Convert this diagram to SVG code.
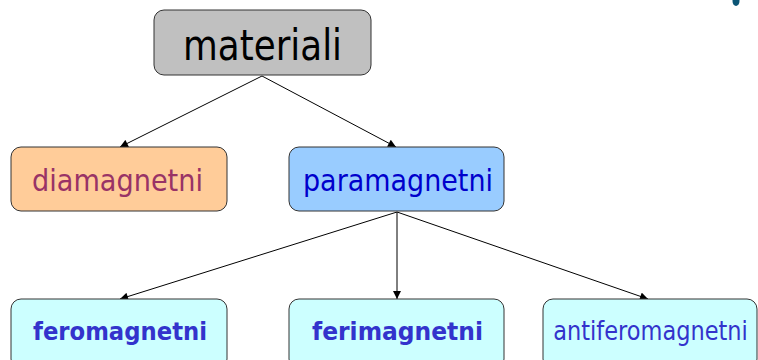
<svg xmlns="http://www.w3.org/2000/svg" width="758" height="360" viewBox="0 0 758 360">
  <defs>
    <marker id="arrow" viewBox="0 0 10 10" refX="10" refY="5" markerWidth="10" markerHeight="8" markerUnits="userSpaceOnUse" orient="auto">
      <path d="M0,0 L10,5 L0,10 z" fill="#000"/>
    </marker>
  </defs>
  <style>
    .box { stroke: #333; stroke-width: 1; }
    .lbl { font-family: "DejaVu Sans", Verdana, sans-serif; text-anchor: middle; }
    .link { stroke: #000; stroke-width: 1; fill: none; marker-end: url(#arrow); }
  </style>
  <rect width="758" height="360" fill="#fff"/>
  <!-- small dot in the top-right corner -->
  <ellipse cx="736" cy="1" rx="3.5" ry="5" fill="#0b5575"/>

  <g id="connectors">
    <line class="link" x1="262" y1="76" x2="120" y2="147"/>
    <line class="link" x1="262" y1="76" x2="396" y2="147"/>
    <line class="link" x1="397" y1="212" x2="120" y2="299"/>
    <line class="link" x1="397" y1="212" x2="397" y2="299"/>
    <line class="link" x1="397" y1="212" x2="648" y2="299"/>
  </g>

  <g id="materiali">
    <rect class="box" x="154" y="10" width="217" height="65" rx="10" fill="#c0c0c0"/>
    <text class="lbl" x="262.5" y="60" font-size="42" fill="#000" textLength="159" lengthAdjust="spacingAndGlyphs">materiali</text>
  </g>

  <g id="diamagnetni">
    <rect class="box" x="11" y="147" width="216" height="64" rx="10" fill="#ffcc99"/>
    <text class="lbl" x="117.5" y="191" font-size="31" fill="#993366" textLength="171" lengthAdjust="spacingAndGlyphs">diamagnetni</text>
  </g>

  <g id="paramagnetni">
    <rect class="box" x="289" y="147" width="215" height="64" rx="10" fill="#99ccff"/>
    <text class="lbl" x="398" y="191" font-size="31" fill="#0000cc" textLength="190" lengthAdjust="spacingAndGlyphs">paramagnetni</text>
  </g>

  <g id="feromagnetni">
    <rect class="box" x="11" y="299" width="216" height="70" rx="10" fill="#ccffff"/>
    <text class="lbl" x="120" y="340" font-size="25" font-weight="bold" fill="#3333cc" textLength="174" lengthAdjust="spacingAndGlyphs">feromagnetni</text>
  </g>

  <g id="ferimagnetni">
    <rect class="box" x="289" y="299" width="215" height="70" rx="10" fill="#ccffff"/>
    <text class="lbl" x="397.5" y="340" font-size="25" font-weight="bold" fill="#3333cc" textLength="171" lengthAdjust="spacingAndGlyphs">ferimagnetni</text>
  </g>

  <g id="antiferomagnetni">
    <rect class="box" x="543" y="299" width="214" height="70" rx="10" fill="#ccffff"/>
    <text class="lbl" transform="translate(650.5 340) scale(0.865 1)" x="0" y="0" font-size="26" fill="#3333cc">antiferomagnetni</text>
  </g>
</svg>
